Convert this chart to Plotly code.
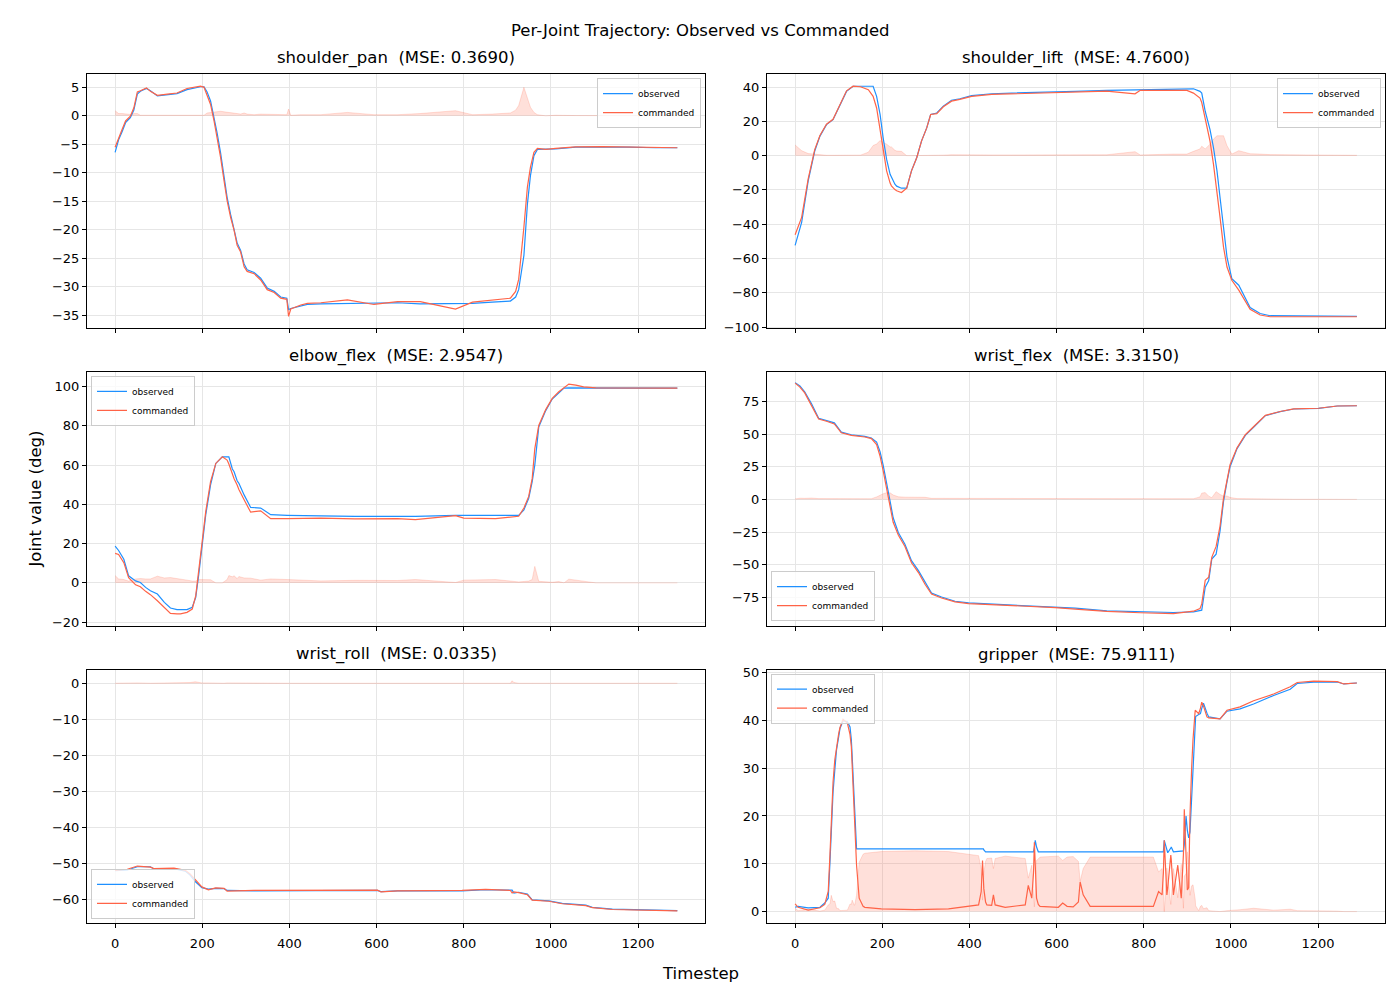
import plotly.graph_objects as go

# ---------------- data ----------------
joint_names = ["shoulder_pan", "shoulder_lift", "elbow_flex", "wrist_flex", "wrist_roll", "gripper"]
mse_labels = ["0.3690", "4.7600", "2.9547", "3.3150", "0.0335", "75.9111"]

t_shoulder_pan = [0, 8, 16, 24, 35, 43, 51, 58, 72, 81, 97, 120, 142, 165, 181, 196, 204, 211, 219, 227,
                  234, 242, 250, 257, 265, 273, 280, 288, 296, 303, 319, 334, 349, 365, 380, 394, 398, 403,
                  426, 441, 472, 533, 594, 648, 700, 781, 820, 865, 907, 919, 926, 938, 946, 953, 961, 969,
                  988, 1011, 1057, 1118, 1179, 1240, 1290]
obs_shoulder_pan = [-6.4, -4.2, -2.8, -1.2, -0.3, 1.0, 3.8, 4.3, 4.8, 4.4, 3.5, 3.7, 3.9, 4.6, 4.9, 5.1, 5.1,
                    4.2, 2.6, -0.2, -3.0, -6.5, -10.7, -14.3, -17.3, -19.7, -22.3, -23.6, -26.0, -27.0, -27.5,
                    -28.5, -30.2, -30.8, -31.8, -32.0, -34.0, -33.8, -33.4, -33.1, -33.0, -32.9, -32.9, -32.8,
                    -33.0, -33.0, -32.9, -32.7, -32.5, -31.8, -30.5, -24.5, -15.5, -10.5, -7.0, -5.9, -5.9,
                    -5.8, -5.5, -5.45, -5.5, -5.6, -5.6]
cmd_shoulder_pan = [-5.5, -3.8, -2.4, -0.9, -0.05, 1.4, 4.2, 4.4, 4.9, 4.3, 3.6, 3.8, 4.0, 4.8, 5.0, 5.2, 5.0,
                    3.7, 2.0, -0.9, -3.8, -7.3, -11.4, -14.9, -17.8, -20.1, -22.7, -23.9, -26.5, -27.3, -27.7,
                    -28.8, -30.5, -31.0, -32.0, -32.2, -35.2, -33.9, -33.2, -32.9, -32.8, -32.3, -33.1, -32.6,
                    -32.6, -33.9, -32.7, -32.4, -32.0, -30.8, -28.7, -19.5, -12.5, -9.0, -6.4, -5.7, -5.9,
                    -5.7, -5.45, -5.4, -5.5, -5.6, -5.6]

t_shoulder_lift = [0, 15, 30, 45, 57, 72, 87, 103, 118, 133, 150, 168, 179, 187, 195, 202, 210, 218, 221, 229,
                   233, 244, 256, 267, 279, 290, 302, 311, 325, 340, 359, 378, 405, 451, 497, 543, 597, 643,
                   715, 780, 792, 868, 899, 914, 929, 933, 941, 952, 960, 968, 975, 983, 991, 1002, 1018,
                   1044, 1067, 1090, 1175, 1289]
obs_shoulder_lift = [-52.4, -38.9, -14.7, 2.7, 11.4, 18.1, 21.0, 29.8, 37.5, 40.5, 40.5, 40.5, 40.5, 34.6,
                     24.0, 10.4, -2.2, -10.9, -12.5, -16.7, -17.8, -19.0, -19.0, -8.9, -1.2, 8.5, 16.2, 24.0,
                     24.9, 28.8, 32.3, 33.2, 35.0, 36.1, 36.5, 36.7, 37.1, 37.5, 38.1, 38.4, 38.5, 39.0, 39.0,
                     39.0, 37.5, 36.5, 25.9, 15.2, 4.6, -8.9, -24.4, -41.8, -59.2, -71.8, -75.6, -88.6,
                     -92.1, -93.4, -93.6, -93.8]
cmd_shoulder_lift = [-46.2, -36.0, -13.5, 3.5, 11.8, 18.3, 21.2, 30.0, 37.8, 40.5, 40.2, 38.5, 34.6, 27.8,
                     15.2, 2.7, -8.9, -16.0, -17.6, -19.8, -20.5, -21.5, -19.0, -8.9, -1.2, 8.5, 16.2, 24.0,
                     24.5, 28.5, 31.8, 32.8, 34.6, 35.7, 36.1, 36.2, 36.8, 37.1, 37.6, 36.1, 38.1, 38.1, 38.1,
                     36.5, 33.6, 31.0, 22.0, 8.5, -5.1, -20.5, -36.0, -53.4, -65.0, -72.7, -78.5, -89.7,
                     -93.0, -94.0, -94.0, -94.0]

t_elbow_flex = [0, 8, 20, 31, 47, 58, 70, 81, 97, 113, 127, 142, 150, 165, 177, 185, 192, 200, 208, 219, 231,
                246, 257, 261, 269, 273, 280, 284, 296, 311, 334, 357, 395, 472, 550, 611, 648, 689, 781, 800,
                873, 926, 938, 949, 957, 963, 972, 988, 1003, 1018, 1030, 1041, 1057, 1075, 1103, 1290]
obs_elbow_flex = [18.7, 16.5, 12.0, 3.6, 1.0, 0.2, -2.3, -4.0, -5.7, -9.9, -12.8, -13.6, -13.6, -13.6, -12.4,
                  -7.4, 4.4, 19.6, 34.7, 49.9, 60.8, 64.2, 64.2, 64.2, 58.0, 56.6, 52.0, 50.7, 44.8, 38.4,
                  38.1, 34.7, 34.4, 34.0, 33.9, 33.9, 33.9, 33.9, 34.4, 34.4, 34.4, 34.4, 37.2, 43.1, 51.5,
                  60.0, 79.3, 87.7, 93.6, 96.6, 99.2, 99.3, 99.3, 99.3, 99.3, 99.2]
cmd_elbow_flex = [15.0, 14.5, 10.3, 2.7, -1.0, -2.0, -4.3, -6.0, -9.1, -12.4, -15.5, -15.8, -15.8, -15.0, -13.3,
                  -6.5, 6.1, 21.2, 36.4, 51.5, 60.8, 64.2, 62.5, 60.5, 54.9, 53.0, 49.8, 47.5, 42.3, 36.0,
                  36.7, 32.7, 32.7, 33.0, 32.6, 32.7, 32.7, 32.2, 34.2, 33.0, 32.7, 33.9, 38.1, 44.0, 53.2,
                  68.4, 80.1, 88.2, 93.9, 97.3, 99.2, 101.2, 100.7, 99.8, 99.3, 99.2]

t_wrist_flex = [0, 11, 22, 38, 54, 72, 90, 106, 129, 160, 175, 187, 195, 202, 210, 218, 225, 237, 252, 267, 283,
                298, 313, 336, 367, 398, 467, 543, 597, 643, 715, 792, 868, 914, 929, 933, 941, 949, 956, 966,
                975, 983, 991, 998, 1014, 1033, 1056, 1079, 1113, 1144, 1201, 1244, 1289]
obs_wrist_flex = [89.4, 86.9, 82.3, 73.0, 62.1, 60.4, 58.6, 51.5, 49.5, 48.2, 47.0, 43.9, 36.4, 26.3, 13.6, -1.5,
                  -14.1, -25.5, -34.3, -46.9, -54.5, -63.4, -71.7, -74.7, -78.0, -79.3, -80.3, -81.8, -82.3,
                  -83.3, -85.3, -86.1, -86.6, -86.1, -85.5, -84.8, -67.2, -62.1, -45.7, -41.9, -24.2, -1.5,
                  13.6, 25.0, 38.9, 49.0, 56.6, 64.1, 67.2, 69.2, 69.7, 71.5, 71.7]
cmd_wrist_flex = [89.0, 86.0, 81.5, 72.0, 61.5, 59.8, 57.8, 51.0, 49.0, 47.8, 46.5, 42.0, 33.0, 22.0, 8.5, -6.5,
                  -17.5, -27.5, -36.0, -48.5, -56.0, -65.0, -72.5, -75.5, -78.5, -79.8, -80.8, -82.3, -82.8,
                  -84.0, -85.8, -86.8, -87.4, -85.6, -83.6, -80.0, -62.0, -59.6, -44.4, -36.0, -20.4, 1.0,
                  16.2, 26.5, 39.5, 49.5, 57.0, 64.3, 67.3, 69.3, 69.8, 71.5, 71.7]

t_wrist_roll = [0, 28, 51, 81, 89, 135, 161, 172, 184, 199, 214, 231, 250, 257, 319, 395, 472, 602, 610, 648,
                796, 850, 907, 911, 915, 926, 946, 957, 995, 1026, 1080, 1095, 1141, 1217, 1290]
obs_wrist_roll = [-52.1, -51.9, -51.0, -51.0, -51.6, -51.5, -52.2, -53.3, -55.1, -56.8, -57.2, -57.0, -57.1,
                  -57.6, -57.7, -57.7, -57.5, -57.6, -57.9, -57.7, -57.7, -57.4, -57.5, -57.5, -58.3, -58.1,
                  -58.6, -60.2, -60.5, -61.2, -61.7, -62.3, -62.8, -62.9, -63.2]
cmd_wrist_roll = [-52.0, -51.7, -50.8, -51.1, -51.5, -51.4, -52.0, -53.0, -54.6, -56.6, -57.4, -56.9, -57.0,
                  -57.8, -57.6, -57.6, -57.4, -57.5, -58.0, -57.7, -57.6, -57.3, -57.6, -58.3, -58.0, -58.2,
                  -58.8, -60.3, -60.6, -61.3, -61.8, -62.4, -62.9, -63.0, -63.3]

t_gripper = [0, 7, 30, 57, 68, 76, 80, 83, 87, 91, 95, 100, 103, 110, 120, 126, 129, 131, 136, 137, 141, 147,
             156, 160, 198, 275, 352, 421, 427, 430, 432, 433, 437, 440, 451, 455, 459, 482, 528, 535, 543, 547,
             549, 551, 554, 558, 562, 604, 614, 624, 638, 650, 654, 661, 677, 715, 792, 822, 834, 842, 845, 847,
             853, 855, 862, 863, 868, 878, 886, 891, 893, 897, 900, 903, 906, 910, 913, 918, 919, 926, 930, 933,
             937, 945, 949, 975, 991, 1021, 1052, 1098, 1136, 1152, 1190, 1244, 1259, 1289]
obs_gripper = [0.9, 1.1, 0.8, 0.9, 1.8, 2.8, 10.4, 16.6, 24.9, 29.5, 33.8, 36.6, 38.3, 39.9, 39.7, 38.6, 36.0,
               32.4, 22.0, 20.0, 13.1, 13.1, 13.1, 13.1, 13.1, 13.1, 13.1, 13.1, 13.1, 13.1, 13.1, 12.9, 12.5,
               12.5, 12.5, 12.5, 12.5, 12.5, 12.5, 12.5, 12.5, 12.5, 13.5, 14.9, 13.5, 12.5, 12.5, 12.5, 12.5,
               12.5, 12.5, 12.5, 12.5, 12.5, 12.5, 12.5, 12.5, 12.5, 12.5, 12.5, 12.5, 14.9, 12.6, 12.3, 13.3,
               13.5, 12.5, 12.6, 12.7, 12.7, 14.0, 20.0, 17.0, 15.4, 16.6, 25.0, 30.4, 39.5, 40.8, 41.2, 41.4,
               42.5, 43.6, 41.5, 40.7, 40.3, 41.9, 42.4, 43.4, 45.2, 46.5, 47.7, 48.0, 48.0, 47.6, 47.8]
cmd_gripper = [1.6, 0.9, 0.3, 0.8, 1.5, 4.2, 12.0, 20.0, 27.0, 31.7, 34.5, 37.2, 38.5, 40.2, 39.4, 37.0, 34.5,
               30.0, 20.7, 18.5, 9.7, 2.8, 1.1, 0.9, 0.55, 0.4, 0.55, 1.4, 4.2, 10.7, 7.0, 4.8, 2.0, 1.4, 1.3,
               3.5, 1.4, 0.9, 1.4, 5.5, 2.8, 8.0, 14.5, 10.0, 2.8, 1.5, 1.1, 0.9, 1.8, 1.1, 1.0, 2.0, 6.2, 3.5,
               1.1, 1.1, 1.1, 1.1, 4.2, 3.5, 8.0, 14.9, 3.5, 5.0, 11.8, 11.0, 3.5, 9.7, 2.8, 12.0, 21.4, 12.0,
               4.5, 5.0, 20.0, 30.4, 36.0, 42.1, 42.0, 41.4, 42.5, 43.8, 43.0, 40.7, 40.5, 40.3, 42.1, 42.8,
               44.1, 45.5, 47.0, 47.9, 48.2, 48.1, 47.6, 47.8]

x_tick_values = [0, 200, 400, 600, 800, 1000, 1200]
y_tick_steps = [5, 20, 20, 25, 10, 10]

# ---------------- styling / layout ----------------
OBS_COLOR = "#1E90FF"
CMD_COLOR = "#FF6347"
FILL_COLOR = "rgba(255,99,71,0.2)"
FONT = "DejaVu Sans"
W, H = 1400, 1000

series = [
    (t_shoulder_pan, obs_shoulder_pan, cmd_shoulder_pan),
    (t_shoulder_lift, obs_shoulder_lift, cmd_shoulder_lift),
    (t_elbow_flex, obs_elbow_flex, cmd_elbow_flex),
    (t_wrist_flex, obs_wrist_flex, cmd_wrist_flex),
    (t_wrist_roll, obs_wrist_roll, cmd_wrist_roll),
    (t_gripper, obs_gripper, cmd_gripper),
]

# plot areas in pixels (left, right, top, bottom)
col_px = [(87, 705), (767, 1385)]
row_px = [(70, 327), (371, 628), (672, 928)]
y_ranges = [(-37.3, 7.3), (-100.8, 47.5), (-22.0, 107.4), (-97.0, 97.6), (-66.6, 3.9), (-2.34, 50.6)]
x_range = (-64.5, 1353.5)

# legend placement: (x_px, y_px, xanchor, yanchor)
legend_pos = [
    (701, 74, "right", "top"),
    (1381, 74, "right", "top"),
    (91, 375, "left", "top"),
    (771, 623, "left", "bottom"),
    (91, 924, "left", "bottom"),
    (771, 676, "left", "top"),
]

fig = go.Figure()
layout = dict(
    width=W, height=H,
    margin=dict(l=0, r=0, t=0, b=0),
    paper_bgcolor="white", plot_bgcolor="white",
    font=dict(family=FONT, size=13, color="black"),
    annotations=[],
)

for i, (t, obs, cmd) in enumerate(series):
    r, c = divmod(i, 2)
    ax = "" if i == 0 else str(i + 1)
    lg = "legend" if i == 0 else "legend%d" % (i + 1)
    err = [abs(o - m) for o, m in zip(obs, cmd)]

    fig.add_trace(go.Scatter(x=t, y=err, mode="lines", fill="tozeroy", fillcolor=FILL_COLOR,
                             line=dict(color="rgba(255,99,71,0.25)", width=0.8),
                             showlegend=False, hoverinfo="skip",
                             xaxis="x" + ax, yaxis="y" + ax))
    fig.add_trace(go.Scatter(x=t, y=obs, mode="lines", name="observed",
                             line=dict(color=OBS_COLOR, width=1.2),
                             legend=lg, xaxis="x" + ax, yaxis="y" + ax))
    fig.add_trace(go.Scatter(x=t, y=cmd, mode="lines", name="commanded",
                             line=dict(color=CMD_COLOR, width=1.2),
                             legend=lg, xaxis="x" + ax, yaxis="y" + ax))

    x0, x1 = col_px[c]
    y0, y1 = row_px[r]
    xdom = [x0 / W, x1 / W]
    ydom = [1 - y1 / H, 1 - y0 / H]
    axis_common = dict(showline=True, linecolor="black", linewidth=1, mirror=True,
                       ticks="outside", ticklen=4, tickwidth=1, tickcolor="black",
                       showgrid=True, gridcolor="#e6e6e6", gridwidth=1, zeroline=False,
                       tickfont=dict(family=FONT, size=13, color="black"))
    layout["xaxis" + ax] = dict(domain=xdom, range=list(x_range), anchor="y" + ax,
                                tickvals=x_tick_values, showticklabels=(r == 2),
                                ticklabelstandoff=5, **axis_common)
    layout["yaxis" + ax] = dict(domain=ydom, range=list(y_ranges[i]), anchor="x" + ax,
                                tick0=0, dtick=y_tick_steps[i], **axis_common)

    lx, ly, xa, ya = legend_pos[i]
    layout[lg] = dict(x=lx / W, y=1 - ly / H, xanchor=xa, yanchor=ya,
                      bgcolor="rgba(255,255,255,0.8)", bordercolor="#cccccc", borderwidth=1,
                      font=dict(family=FONT, size=9, color="black"),
                      itemwidth=30, tracegroupgap=0)

    layout["annotations"].append(dict(
        text=joint_names[i] + " \u00a0(MSE: " + mse_labels[i] + ")",
        x=(xdom[0] + xdom[1]) / 2, y=ydom[1], xref="paper", yref="paper",
        xanchor="center", yanchor="bottom", yshift=4, showarrow=False,
        font=dict(family=FONT, size=16.5, color="black")))

layout["annotations"].append(dict(
    text="Per-Joint Trajectory: Observed vs Commanded", x=0.5, y=1 - 26 / H,
    xref="paper", yref="paper", xanchor="center", yanchor="middle", showarrow=False,
    font=dict(family=FONT, size=16.5, color="black")))
layout["annotations"].append(dict(
    text="Joint value (deg)", x=35 / W, y=0.5, xref="paper", yref="paper",
    xanchor="center", yanchor="middle", textangle=-90, showarrow=False,
    font=dict(family=FONT, size=16.5, color="black")))
layout["annotations"].append(dict(
    text="Timestep", x=0.5, y=1 - 979 / H, xref="paper", yref="paper",
    xanchor="center", yanchor="middle", showarrow=False,
    font=dict(family=FONT, size=16.5, color="black")))

fig.update_layout(**layout)
fig.write_html("out.html")
